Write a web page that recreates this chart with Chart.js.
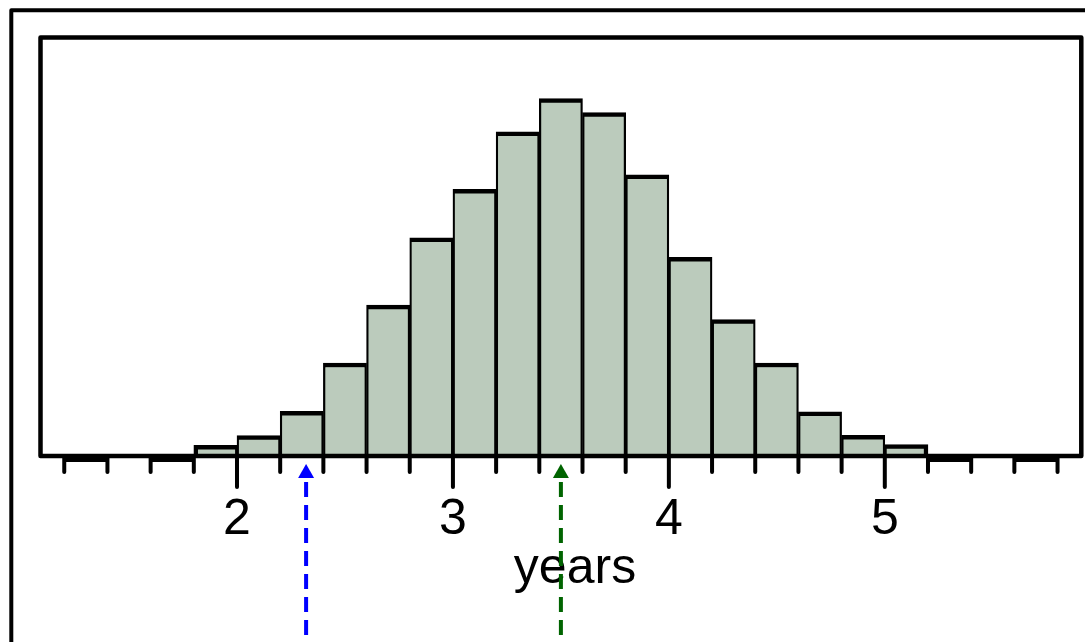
<!DOCTYPE html>
<html>
<head>
<meta charset="utf-8">
<script src="https://cdn.jsdelivr.net/npm/chart.js@4/dist/chart.umd.min.js"></script>
<style>
  html, body { margin: 0; padding: 0; background: #ffffff; }
  canvas { display: block; }
</style>
</head>
<body>
<canvas id="c" width="1085" height="642"></canvas>
<script>
// ---- data ----
const binStarts   = [1.8, 2.0, 2.2, 2.4, 2.6, 2.8, 3.0, 3.2, 3.4, 3.6, 3.8, 4.0, 4.2, 4.4, 4.6, 4.8, 5.0];
const binPercents = [0.41, 0.79, 1.73, 3.60, 5.84, 8.45, 10.32, 12.55, 13.84, 13.29, 10.88, 7.69, 5.28, 3.60, 1.71, 0.80, 0.44];
const emptyBinStarts = [1.2, 1.6, 5.2, 5.6];
const binWidth = 0.2;
const tickLabels = ['2', '3', '4', '5'];
const xLimits = [1.09, 5.91];
const yMax = 16.2;
const markerValues = [2.32, 3.5];
const markerColors = ['#0000FF', '#006400'];
const axisTitle = 'years';

const FONT = '"Liberation Sans", Arial, Helvetica, sans-serif';

const points = binStarts.map((s, i) => ({ x: s + binWidth / 2, y: binPercents[i] }));
const lastIdx = binStarts.length - 1;

const decor = {
  id: 'decor',
  beforeDraw(chart) {
    const ctx = chart.ctx;
    ctx.save();
    ctx.fillStyle = '#ffffff';
    ctx.fillRect(0, 0, chart.width, chart.height);
    // outer frame (cropped figure border)
    ctx.strokeStyle = '#000';
    ctx.lineWidth = 4;
    ctx.lineJoin = 'round';
    ctx.beginPath();
    ctx.moveTo(11.3, chart.height + 5);
    ctx.lineTo(11.3, 10.3);
    ctx.lineTo(chart.width + 5, 10.3);
    ctx.stroke();
    ctx.restore();
  },
  afterDraw(chart) {
    const ctx = chart.ctx;
    const a = chart.chartArea;
    const xs = chart.scales.x;
    ctx.save();
    ctx.strokeStyle = '#000';
    ctx.fillStyle = '#000';
    ctx.lineWidth = 4.5;
    ctx.lineJoin = 'round';
    // inner plot frame
    ctx.strokeRect(a.left, a.top, a.right - a.left, a.bottom - a.top);
    // empty bins: slightly thicker baseline
    emptyBinStarts.forEach(s => {
      const x0 = xs.getPixelForValue(s);
      const x1 = xs.getPixelForValue(s + binWidth);
      ctx.fillRect(x0, a.bottom - 2, x1 - x0, 8);
    });
    // tick marks
    ctx.lineWidth = 4;
    ctx.lineCap = 'round';
    xs.ticks.forEach(t => {
      const v = t.value;
      const major = Math.abs(v - Math.round(v)) < 1e-6;
      const x = xs.getPixelForValue(v);
      ctx.beginPath();
      ctx.moveTo(x, a.bottom);
      ctx.lineTo(x, a.bottom + (major ? 31 : 16));
      ctx.stroke();
    });
    // axis title
    ctx.font = '50px ' + FONT;
    ctx.textAlign = 'center';
    ctx.textBaseline = 'alphabetic';
    ctx.fillText(axisTitle, 575, 583);
    // marker arrows
    markerValues.forEach((v, i) => {
      const x = xs.getPixelForValue(v);
      ctx.fillStyle = markerColors[i];
      ctx.strokeStyle = markerColors[i];
      ctx.beginPath();
      ctx.moveTo(x, a.bottom + 8);
      ctx.lineTo(x - 8, a.bottom + 22);
      ctx.lineTo(x + 8, a.bottom + 22);
      ctx.closePath();
      ctx.fill();
      ctx.lineCap = 'butt';
      ctx.lineWidth = 4;
      ctx.setLineDash([15, 8]);
      ctx.beginPath();
      ctx.moveTo(x, a.bottom + 26);
      ctx.lineTo(x, chart.height + 5);
      ctx.stroke();
      ctx.setLineDash([]);
    });
    ctx.restore();
  }
};

new Chart(document.getElementById('c'), {
  type: 'bar',
  data: {
    datasets: [{
      data: points,
      backgroundColor: '#BBCBBC',
      borderColor: '#000000',
      borderSkipped: false,
      borderWidth: (c) => ({
        top: 4.5,
        bottom: 0,
        left: c.dataIndex === 0 ? 4.5 : 2.25,
        right: c.dataIndex === lastIdx ? 4.5 : 2.25
      }),
      barPercentage: 1,
      categoryPercentage: 1
    }]
  },
  options: {
    responsive: false,
    animation: false,
    devicePixelRatio: 1,
    layout: { padding: { left: 40.5, right: 3.7, top: 37.5, bottom: 0 } },
    plugins: { legend: { display: false }, tooltip: { enabled: false }, title: { display: false } },
    scales: {
      x: {
        type: 'linear',
        min: xLimits[0],
        max: xLimits[1],
        offset: false,
        grid: { display: false, drawTicks: false, tickLength: 0 },
        border: { display: false },
        ticks: {
          stepSize: binWidth,
          includeBounds: false,
          autoSkip: false,
          maxRotation: 0,
          padding: 34,
          color: '#000',
          font: { family: FONT, size: 50 },
          callback: (v) => {
            const r = Math.round(v);
            return (Math.abs(v - r) < 1e-6 && tickLabels.includes(String(r))) ? String(r) : '';
          }
        },
        afterFit: (s) => { s.height = 186; s.paddingLeft = 0; s.paddingRight = 0; }
      },
      y: {
        display: false,
        min: 0,
        max: yMax
      }
    }
  },
  plugins: [decor]
});
</script>
</body>
</html>
